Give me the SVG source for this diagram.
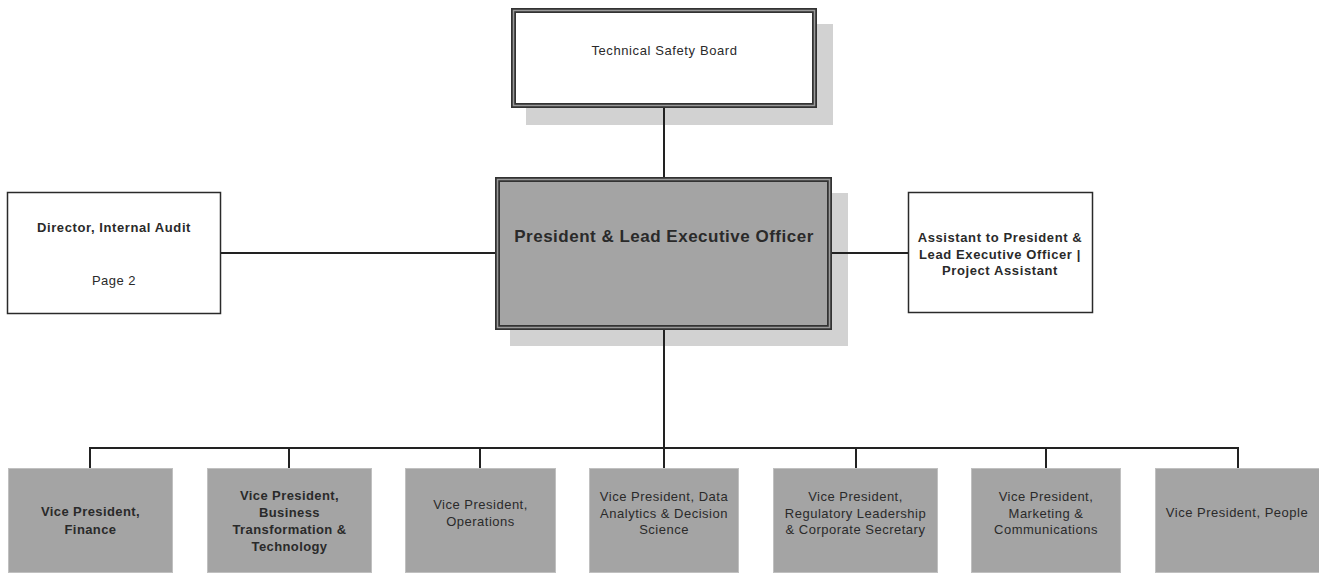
<svg xmlns="http://www.w3.org/2000/svg" width="1319" height="575" viewBox="0 0 1319 575">
<style>
.t{font-family:"Liberation Sans",Arial,sans-serif;font-size:13px;fill:#2a2a2a;text-anchor:middle;letter-spacing:0.5px}
.b{font-weight:bold}
.shadow{fill:#d2d2d2}
.dbl{stroke:#333;stroke-width:5}
.dblin{fill:none;stroke:#9a9a9a;stroke-width:1.5}
.plain{fill:#fff;stroke:#2a2a2a;stroke-width:1.5}
.vp{fill:#a4a4a4;stroke:#c0c0c0;stroke-width:1}
.conn{fill:none;stroke:#222;stroke-width:2}
</style>
<g id="tsb">
<rect class="shadow" x="526" y="24" width="307" height="101"/>
<rect class="dbl" x="513.5" y="10.5" width="301" height="95" fill="#fff"/>
<rect class="dblin" x="513.5" y="10.5" width="301" height="95"/>
<text class="t" x="664.5" y="55" style="letter-spacing:0.6px">Technical Safety Board</text>
</g>
<g id="president">
<rect class="shadow" x="510" y="193" width="338" height="153"/>
<rect class="dbl" x="497.5" y="179.5" width="332" height="148" fill="#a4a4a4"/>
<rect class="dblin" x="497.5" y="179.5" width="332" height="148"/>
<text class="t b" x="664" y="242" style="font-size:17px;letter-spacing:0.5px">President &amp; Lead Executive Officer</text>
</g>
<g id="audit">
<rect class="plain" x="7.5" y="192.5" width="213" height="121"/>
<text class="t b" x="114" y="232" style="letter-spacing:0.6px">Director, Internal Audit</text>
<text class="t" x="114" y="285">Page 2</text>
</g>
<g id="assistant">
<rect class="plain" x="908.5" y="192.5" width="184" height="120"/>
<text class="t b" x="1000" y="242" style="letter-spacing:0.6px">Assistant to President &amp;</text>
<text class="t b" x="1000" y="258.5" style="letter-spacing:0.6px">Lead Executive Officer |</text>
<text class="t b" x="1000" y="275" style="letter-spacing:0.6px">Project Assistant</text>
</g>
<g id="vp-finance">
<rect class="vp" x="8.5" y="468.5" width="164" height="104"/>
<text class="t b" x="90.5" y="516" style="letter-spacing:0.4px">Vice President,</text>
<text class="t b" x="90.5" y="534" style="letter-spacing:0.4px">Finance</text>
</g>
<g id="vp-business">
<rect class="vp" x="207.5" y="468.5" width="164" height="104"/>
<text class="t b" x="289.5" y="500" style="letter-spacing:0.4px">Vice President,</text>
<text class="t b" x="289.5" y="517" style="letter-spacing:0.4px">Business</text>
<text class="t b" x="289.5" y="534" style="letter-spacing:0.4px">Transformation &amp;</text>
<text class="t b" x="289.5" y="551" style="letter-spacing:0.4px">Technology</text>
</g>
<g id="vp-operations">
<rect class="vp" x="405.5" y="468.5" width="150" height="104"/>
<text class="t" x="480.5" y="509">Vice President,</text>
<text class="t" x="480.5" y="526">Operations</text>
</g>
<g id="vp-data">
<rect class="vp" x="589.5" y="468.5" width="149" height="104"/>
<text class="t" x="664" y="501">Vice President, Data</text>
<text class="t" x="664" y="517.5">Analytics &amp; Decision</text>
<text class="t" x="664" y="534">Science</text>
</g>
<g id="vp-regulatory">
<rect class="vp" x="773.5" y="468.5" width="164" height="104"/>
<text class="t" x="855.5" y="501">Vice President,</text>
<text class="t" x="855.5" y="517.5">Regulatory Leadership</text>
<text class="t" x="855.5" y="534">&amp; Corporate Secretary</text>
</g>
<g id="vp-marketing">
<rect class="vp" x="971.5" y="468.5" width="149" height="104"/>
<text class="t" x="1046" y="501">Vice President,</text>
<text class="t" x="1046" y="517.5">Marketing &amp;</text>
<text class="t" x="1046" y="534">Communications</text>
</g>
<g id="vp-people">
<rect class="vp" x="1155.5" y="468.5" width="164" height="104"/>
<text class="t" x="1237" y="517">Vice President, People</text>
</g>
<g id="connectors">
<line class="conn" x1="664" y1="108" x2="664" y2="177"/>
<line class="conn" x1="221" y1="253" x2="495" y2="253"/>
<line class="conn" x1="832" y1="253" x2="908" y2="253"/>
<line class="conn" x1="664" y1="330" x2="664" y2="448"/>
<line class="conn" x1="90" y1="448" x2="1238" y2="448"/>
<path class="conn" d="M90 447V468M289 447V468M480 447V468M664 447V468M856 447V468M1046 447V468M1238 447V468"/>
</g>
</svg>
